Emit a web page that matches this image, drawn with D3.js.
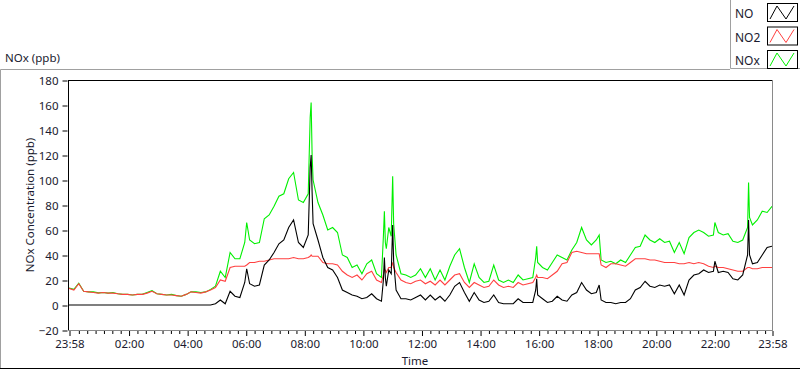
<!DOCTYPE html>
<html>
<head>
<meta charset="utf-8">
<script src="https://cdn.jsdelivr.net/npm/d3@7"></script>
<style>
  body { margin: 0; background: #fff; }
  text { font-family: "Segoe UI", "Noto Sans", sans-serif; fill: #1a1a2e; }
</style>
</head>
<body>
<svg id="chart" width="800" height="369"></svg>
<script>
// minutes after 23:58 of the previous day
const minutes = [0, 10, 20, 30, 40, 50, 60, 70, 80, 90, 100, 110, 120, 130, 140, 150, 160, 170, 180, 190,
  200, 210, 220, 230, 240, 250, 260, 270, 280, 290, 300, 310, 320, 330, 340, 350, 360, 364, 370, 380,
  390, 400, 410, 420, 430, 440, 450, 460, 470, 480, 490, 494, 496, 498, 500, 510, 520, 530, 540, 550,
  560, 570, 580, 590, 600, 610, 620, 630, 640, 644, 646, 648, 650, 655, 660, 663, 665, 670, 680, 690,
  700, 710, 720, 730, 740, 750, 760, 770, 780, 790, 800, 810, 820, 830, 840, 850, 860, 870, 880, 890,
  900, 910, 920, 930, 940, 950, 956, 958, 960, 970, 980, 990, 1000, 1010, 1020, 1030, 1040, 1050, 1060, 1070,
  1080, 1086, 1090, 1100, 1110, 1120, 1130, 1140, 1150, 1160, 1170, 1180, 1190, 1200, 1210, 1220, 1230, 1240, 1250, 1260,
  1270, 1280, 1290, 1300, 1310, 1320, 1323, 1330, 1340, 1350, 1360, 1370, 1380, 1390, 1392, 1394, 1400, 1410, 1420, 1430,
  1440];

const noValues = [0, 0, 0, 0, 0, 0, 0, 0, 0, 0, 0, 0, 0, 0, 0, 0, 0, 0, 0, 0,
  0, 0, 0, 0, 0, 0, 0, 0, 0, 0, 1, 4, 1, 11, 7, 6, 18, 29, 17, 15,
  16, 32, 36, 42, 49, 52, 62, 68, 50, 46, 56, 110, 120, 90, 65, 52, 38, 30, 28, 22,
  12, 10, 8, 7, 5, 6, 9, 5, 3, 20, 38, 22, 15, 28, 25, 64, 35, 12, 5, 5,
  4, 6, 8, 4, 8, 4, 7, 3, 8, 15, 18, 10, 3, 10, 4, 2, 3, 8, 2, 1,
  1, 1, 5, 2, 2, 2, 12, 21, 8, 5, 2, 3, 7, 4, 3, 8, 10, 18, 12, 9,
  10, 16, 4, 2, 2, 1, 2, 2, 5, 12, 14, 19, 15, 14, 16, 15, 16, 9, 16, 8,
  20, 24, 25, 28, 26, 27, 35, 26, 27, 26, 21, 20, 24, 40, 68, 40, 33, 34, 40, 46,
  47];

const no2Values = [13.3, 12, 17, 11, 10.5, 10, 9.5, 10, 9.5, 9.5, 9, 8.5, 8.5, 8, 8.5, 8.5, 9.5, 11, 9, 8.5,
  8, 8, 7.5, 7, 8.5, 10.5, 10, 9.5, 10.5, 12, 14, 20, 19, 30, 31, 31, 31, 32, 34, 34,
  35, 35, 36, 37, 37, 37, 37, 38, 37, 37, 38, 39, 40, 39, 39, 39, 34, 33, 33, 32,
  27, 24, 22, 24, 20, 25, 27, 20, 18, 24, 28, 28, 26, 30, 30, 34, 30, 26, 20, 18,
  17, 19, 20, 17, 19, 16, 20, 16, 20, 24, 25, 18, 14, 18, 16, 14, 15, 20, 16, 14,
  15, 14, 18, 16, 17, 18, 22, 24, 22, 22, 21, 24, 27, 33, 34, 42, 43, 42, 41, 41,
  41, 41, 32, 30, 33, 33, 32, 31, 34, 37, 37, 37, 36, 36, 35, 34, 34, 34, 33, 33,
  34, 33, 34, 33, 31, 30, 31, 30, 30, 29, 28, 27, 27, 30, 30, 30, 29, 29, 30, 30,
  30];

const noxValues = [13.5, 12.5, 17.5, 11, 10.5, 10.5, 9.7, 10, 9.5, 10, 9, 8.5, 8.5, 8, 8.5, 8.5, 10, 11.5, 9, 8.5,
  8, 8.5, 7.5, 7, 8.5, 10.5, 10.5, 10, 10.5, 12.5, 15, 27, 22, 42, 37, 37, 50, 66, 52, 49,
  50, 69, 72, 79, 87, 89, 101, 106, 84, 82, 89, 150, 162, 120, 100, 82, 72, 60, 62, 58,
  40, 38, 30, 32, 25, 33, 36, 25, 22, 55, 75, 50, 45, 62, 55, 103, 65, 40, 25, 24,
  22, 24, 29, 22, 29, 20, 28, 20, 31, 40, 45, 30, 18, 33, 22, 18, 19, 32, 20, 18,
  20, 18, 24, 20, 21, 22, 38, 47, 34, 30, 28, 34, 40, 38, 36, 44, 50, 62, 52, 48,
  52, 56, 36, 34, 35, 33, 36, 34, 40, 46, 47, 56, 52, 50, 53, 50, 51, 42, 50, 41,
  54, 58, 60, 58, 55, 56, 66, 58, 56, 57, 51, 50, 52, 62, 98, 70, 64, 68, 75, 74,
  79];

const seriesNames = ["NO", "NO2", "NOx"];
const seriesColors = ["#000000", "#ff4040", "#00f000"];

const yTicks = [-20, 0, 20, 40, 60, 80, 100, 120, 140, 160, 180];
const timeTicks = [0, 122, 242, 362, 482, 602, 722, 842, 962, 1082, 1202, 1322, 1440];
const timeLabels = ["23:58", "02:00", "04:00", "06:00", "08:00", "10:00", "12:00",
  "14:00", "16:00", "18:00", "20:00", "22:00", "23:58"];

const svg = d3.select("#chart");
const fontSize = 11.5;

const plot = { left: 68, right: 772, top: 80, bottom: 330 };

const xScale = d3.scaleLinear()
  .domain([0, 1440])
  .range([plot.left + 1, plot.right]);

const yScale = d3.scaleLinear()
  .domain([-20, 180])
  .range([plot.bottom, plot.top]);

// outer panel frame
svg.append("path")
  .attr("d", "M0.5,368 V69.5 H730")
  .attr("fill", "none")
  .attr("stroke", "#a0a0a0");
svg.append("line")
  .attr("x1", 0).attr("x2", 800)
  .attr("y1", 368.5).attr("y2", 368.5)
  .attr("stroke", "#000");

svg.append("text")
  .attr("x", 5)
  .attr("y", 62)
  .attr("font-size", fontSize)
  .text("NOx (ppb)");

// clipping for series
svg.append("defs").append("clipPath")
  .attr("id", "clip")
  .append("rect")
  .attr("x", plot.left + 1)
  .attr("y", plot.top + 1)
  .attr("width", plot.right - plot.left - 1)
  .attr("height", plot.bottom - plot.top);

const rows = minutes.map((m, i) => ({
  t: m, NO: noValues[i], NO2: no2Values[i], NOx: noxValues[i]
}));

const line = key => d3.line()
  .x(d => xScale(d.t))
  .y(d => yScale(d[key]));

// green first, red over it, black on top
const g = svg.append("g").attr("clip-path", "url(#clip)");
[2, 1, 0].forEach(i => {
  g.append("path")
    .datum(rows)
    .attr("fill", "none")
    .attr("stroke", seriesColors[i])
    .attr("stroke-width", 1.1)
    .attr("d", line(seriesNames[i]));
});

// plot borders
svg.append("line")
  .attr("x1", plot.left).attr("x2", plot.right + 1)
  .attr("y1", plot.top + 0.5).attr("y2", plot.top + 0.5)
  .attr("stroke", "#000");
svg.append("line")
  .attr("x1", plot.left + 0.5).attr("x2", plot.left + 0.5)
  .attr("y1", plot.top).attr("y2", plot.bottom + 1)
  .attr("stroke", "#000");
svg.append("line")
  .attr("x1", plot.right + 0.5).attr("x2", plot.right + 0.5)
  .attr("y1", plot.top).attr("y2", plot.bottom + 1)
  .attr("stroke", "#8a8a8a");
svg.append("line")
  .attr("x1", plot.left).attr("x2", plot.right + 1)
  .attr("y1", plot.bottom + 0.5).attr("y2", plot.bottom + 0.5)
  .attr("stroke", "#8a8a8a");

// y axis
const yAxis = d3.axisLeft(yScale)
  .tickValues(yTicks)
  .tickSize(5)
  .tickPadding(4);

const yG = svg.append("g")
  .attr("transform", `translate(${plot.left - 0.5},0.5)`)
  .call(yAxis);
yG.select(".domain").remove();
yG.selectAll("text").attr("font-size", fontSize).attr("font-family", null).attr("fill", null);
yG.selectAll("line").attr("stroke", "#000");

// x axis, major ticks with labels
const xAxis = d3.axisBottom(xScale)
  .tickValues(timeTicks)
  .tickFormat((d, i) => timeLabels[i])
  .tickSize(5)
  .tickPadding(4);

const xG = svg.append("g")
  .attr("transform", `translate(0.5,${plot.bottom + 1})`)
  .call(xAxis);
xG.select(".domain").remove();
xG.selectAll("text").attr("font-size", fontSize).attr("font-family", null).attr("fill", null);
xG.selectAll("line").attr("stroke", "#000");

// minor ticks: six between each pair of majors
const step = 120 / 7;
const minorTicks = d3.range(122 - 6 * step, 1440, step)
  .filter(v => !timeTicks.some(t => Math.abs(t - v) < 1));

const xMinor = d3.axisBottom(xScale)
  .tickValues(minorTicks)
  .tickFormat("")
  .tickSize(3);
const xmG = svg.append("g")
  .attr("transform", `translate(0.5,${plot.bottom + 1})`)
  .call(xMinor);
xmG.select(".domain").remove();
xmG.selectAll("line").attr("stroke", "#000");

// axis titles
svg.append("text")
  .attr("transform", "translate(34,205) rotate(-90)")
  .attr("text-anchor", "middle")
  .attr("font-size", fontSize)
  .text("NOx Concentration (ppb)");

svg.append("text")
  .attr("x", 415)
  .attr("y", 365)
  .attr("text-anchor", "middle")
  .attr("font-size", fontSize)
  .text("Time");

// legend
const legend = svg.append("g");
legend.append("path")
  .attr("d", "M730.5,0 V68.5 H800")
  .attr("fill", "none")
  .attr("stroke", "#a0a0a0");

const items = legend.selectAll("g.item")
  .data(seriesNames)
  .enter().append("g")
  .attr("class", "item")
  .attr("transform", (d, i) => `translate(0, ${i * 23.5})`);

items.append("text")
  .attr("x", 735)
  .attr("y", 18)
  .attr("font-size", 12)
  .text(d => d);

items.append("rect")
  .attr("x", 767.5)
  .attr("y", 3.5)
  .attr("width", 30)
  .attr("height", 18)
  .attr("fill", "#fff")
  .attr("stroke", "#000");

items.append("polyline")
  .attr("points", "770,19 777,6 786,19 794,6")
  .attr("fill", "none")
  .attr("stroke", (d, i) => seriesColors[i]);
</script>
</body>
</html>
